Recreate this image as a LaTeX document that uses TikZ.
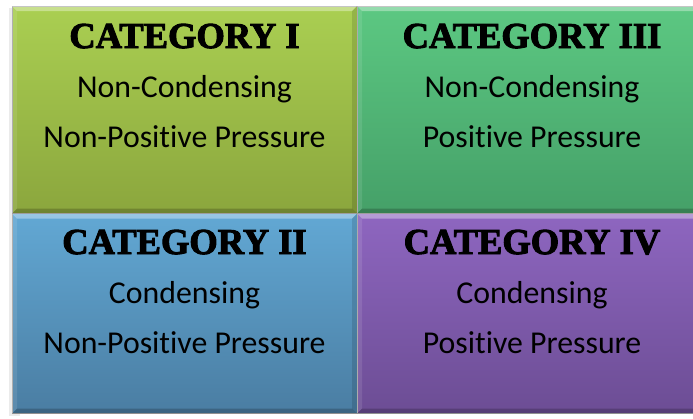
\documentclass[tikz,border=0pt]{standalone}
\usepackage{fontspec}
\setmainfont{Carlito}[Ligatures=NoCommon]
\newfontfamily\catfont[BoldFeatures={FakeBold=2.6}]{Liberation Serif}
\usetikzlibrary{positioning}

\definecolor{limetop}{HTML}{AACF52}
\definecolor{limebot}{HTML}{8BA63D}
\definecolor{greentop}{HTML}{5CC882}
\definecolor{greenbot}{HTML}{45A068}
\definecolor{bluetop}{HTML}{62A8D4}
\definecolor{bluebot}{HTML}{4A7DA2}
\definecolor{violettop}{HTML}{8E66C0}
\definecolor{violetbot}{HTML}{6C4D94}

\begin{document}
\begin{tikzpicture}[x=1pt,y=1pt,
  cat/.style={rectangle, inner sep=0pt, outer sep=0pt, anchor=north west, draw=black!35, line width=0.6pt},
  cattitle/.style={anchor=base, font=\catfont\bfseries\fontsize{36.5}{36}\selectfont},
  catline/.style={anchor=base, font=\fontsize{31.8}{31}\selectfont}]
\clip (0,0) rectangle (693,-418);
\fill[white] (0,0) rectangle (693,-418);
% shadow behind the left column
\fill[black!8] (9,-8) rectangle (20,-416);
\node[cat, minimum width=345, minimum height=207.5, top color=limetop, bottom color=limebot] (cat1) at (12,-6) {};
\node[cat, minimum width=350, minimum height=207.5, top color=greentop, bottom color=greenbot] (cat3) at (cat1.north east) {};
\node[cat, minimum width=345, minimum height=200, top color=bluetop, bottom color=bluebot] (cat2) at (cat1.south west) {};
\node[cat, minimum width=350, minimum height=200, top color=violettop, bottom color=violetbot] (cat4) at (cat2.north east) {};
% bevelled edges
\foreach \b in {cat1,cat2,cat3,cat4}{
  \fill[white,opacity=.35] (\b.north west) -- (\b.north east) -- ([shift={(-5,-5)}]\b.north east) -- ([shift={(5,-5)}]\b.north west) -- cycle;
  \fill[white,opacity=.1] (\b.north west) -- ([shift={(5,-5)}]\b.north west) -- ([shift={(5,5)}]\b.south west) -- (\b.south west) -- cycle;
  \fill[black,opacity=.12] (\b.north east) -- (\b.south east) -- ([shift={(-5,5)}]\b.south east) -- ([shift={(-5,-5)}]\b.north east) -- cycle;
  \fill[black,opacity=.2] (\b.south west) -- ([shift={(5,5)}]\b.south west) -- ([shift={(-5,5)}]\b.south east) -- (\b.south east) -- cycle;
}
% labels
\foreach \b/\num/\one/\two/\dy in {cat1/I/Non-Condensing/Non-Positive Pressure/0,
    cat3/III/Non-Condensing/Positive Pressure/0,
    cat2/II/Condensing/Non-Positive Pressure/1.5,
    cat4/IV/Condensing/Positive Pressure/1.5}{
  \node[cattitle] (\b-title) at ([yshift=-42+\dy]\b.north) {CATEGORY \num};
  \node[catline] (\b-one) at ([yshift=-91+\dy]\b.north) {\one};
  \node[catline] (\b-two) at ([yshift=-141+\dy]\b.north) {\two};
}
\end{tikzpicture}
\end{document}
